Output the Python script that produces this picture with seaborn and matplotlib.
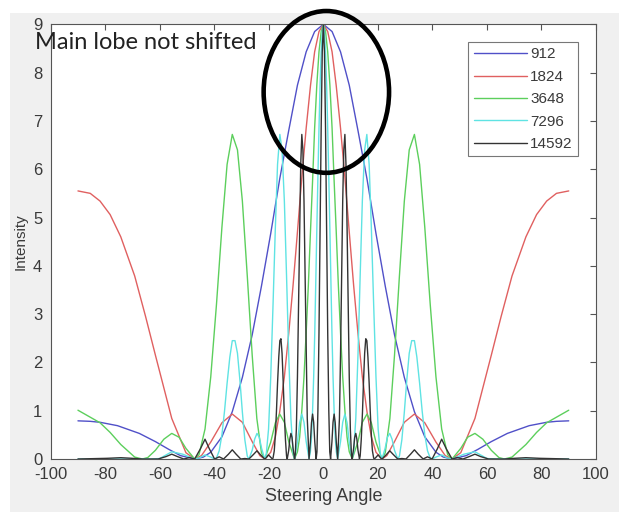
import numpy as np
import pandas as pd
import matplotlib
matplotlib.use("Agg")
import matplotlib.pyplot as plt
import seaborn as sns
from matplotlib.patches import Ellipse, Rectangle

# ---------------- data ----------------
frequencies = ["912", "1824", "3648", "7296", "14592"]

angle_912 = [-90, -85.5, -81.9, -75.5, -67.5, -61.6, -56.7, -52.4, -47.2, -44.0, -41.3, -37.2, -33.4,
             -29.7, -26.1, -22.7, -19.3, -16.0, -12.7, -9.5, -6.3, -3.2, 0,
             3.2, 6.3, 9.5, 12.7, 16.0, 19.3, 22.7, 26.1, 29.7, 33.4, 37.2, 41.3, 44.0,
             47.2, 52.4, 56.7, 61.6, 67.5, 75.5, 81.9, 85.5, 90]
intensity_912 = [0.79, 0.78, 0.76, 0.69, 0.53, 0.36, 0.2, 0.07, 0.0, 0.04, 0.14, 0.46, 0.98,
                 1.69, 2.57, 3.58, 4.67, 5.8, 6.8, 7.74, 8.43, 8.85, 9.0,
                 8.85, 8.43, 7.74, 6.8, 5.8, 4.67, 3.58, 2.57, 1.69, 0.98, 0.46, 0.14, 0.04,
                 0.0, 0.07, 0.2, 0.36, 0.53, 0.69, 0.76, 0.78, 0.79]

angle_1824 = [-90, -85.5, -81.9, -78.2, -74.3, -69.2, -65.2, -61.6, -55.6, -50.4, -47.2, -44.7,
              -41.3, -37.2, -33.4, -29.7, -26.1, -23.3, -21.5, -19.3, -17.6, -16.0, -14.3,
              -12.7, -11.1, -9.5, -7.9, -6.3, -4.7, -3.2, -1.6, 0,
              1.6, 3.2, 4.7, 6.3, 7.9, 9.5, 11.1, 12.7, 14.3, 16.0, 17.6, 19.3, 21.5, 23.3,
              26.1, 29.7, 33.4, 37.2, 41.3, 44.7, 47.2, 50.4, 55.6, 61.6, 65.2, 69.2, 74.3,
              78.2, 81.9, 85.5, 90]
intensity_1824 = [5.55, 5.5, 5.34, 5.06, 4.6, 3.79, 2.95, 2.15, 0.84, 0.13, 0.0, 0.07,
                  0.35, 0.75, 0.93, 0.76, 0.36, 0.07, 0.0, 0.14, 0.46, 0.98, 1.7,
                  2.6, 3.6, 4.7, 5.83, 6.85, 7.74, 8.43, 8.85, 9.0,
                  8.85, 8.43, 7.74, 6.85, 5.83, 4.7, 3.6, 2.6, 1.7, 0.98, 0.46, 0.14, 0.0, 0.07,
                  0.36, 0.76, 0.93, 0.75, 0.35, 0.07, 0.0, 0.13, 0.84, 2.15, 2.95, 3.79, 4.6,
                  5.06, 5.34, 5.5, 5.55]

angle_3648 = [-90, -81.9, -78.2, -74.3, -69.2, -66.4, -64.4, -61.6, -58.5, -55.6, -52.9, -50.4,
              -47.2, -45.6, -43.4, -41.3, -39.2, -37.2, -35.3, -33.4, -31.5, -29.7, -27.9,
              -26.1, -24.4, -22.7, -21.5, -19.3, -17.6, -16.0, -14.3, -12.7, -10.6, -9.5,
              -8.7, -7.9, -7.1, -6.3, -5.5, -4.7, -3.9, -3.2, -2.4, -1.6, -0.8, 0,
              0.8, 1.6, 2.4, 3.2, 3.9, 4.7, 5.5, 6.3, 7.1, 7.9, 8.7, 9.5, 10.6, 12.7, 14.3,
              16.0, 17.6, 19.3, 21.5, 22.7, 24.4, 26.1, 27.9, 29.7, 31.5, 33.4, 35.3, 37.2,
              39.2, 41.3, 43.4, 45.6, 47.2, 50.4, 52.9, 55.6, 58.5, 61.6, 64.4, 66.4, 69.2,
              74.3, 78.2, 81.9, 90]
intensity_3648 = [1.01, 0.75, 0.55, 0.3, 0.04, 0.0, 0.03, 0.18, 0.41, 0.53, 0.45, 0.22,
                  0.0, 0.09, 0.62, 1.7, 3.2, 4.8, 6.1, 6.72, 6.4, 5.34, 3.79,
                  2.15, 0.84, 0.13, 0.0, 0.35, 0.75, 0.93, 0.76, 0.36, 0.0, 0.15,
                  0.45, 1.0, 1.7, 2.62, 3.6, 4.74, 5.83, 6.85, 7.74, 8.43, 8.85, 9.0,
                  8.85, 8.43, 7.74, 6.85, 5.83, 4.74, 3.6, 2.62, 1.7, 1.0, 0.45, 0.15, 0.0, 0.36, 0.76,
                  0.93, 0.75, 0.35, 0.0, 0.13, 0.84, 2.15, 3.79, 5.34, 6.4, 6.72, 6.1, 4.8,
                  3.2, 1.7, 0.62, 0.09, 0.0, 0.22, 0.45, 0.53, 0.41, 0.18, 0.03, 0.0, 0.04,
                  0.3, 0.55, 0.75, 1.01]

angle_7296 = [-90, -63.4, -60.0, -55.6, -51.6, -47.2, -45.6, -43.4, -41.3, -39.9, -39.2, -38.2,
              -37.2, -36.25, -35.3, -34.3, -33.4, -32.4, -31.5, -30.6, -29.7, -28.8, -27.9,
              -27.3, -26.1, -25.2, -24.35, -23.5, -22.65, -21.5, -20.95, -20.1, -19.3, -18.45,
              -17.6, -16.8, -15.95, -15.15, -14.3, -13.5, -12.7, -11.9, -11.1, -10.55, -9.5,
              -8.7, -7.9, -7.1, -6.3, -5.25, -4.75, -4.35, -3.95, -3.55, -3.15, -2.8, -2.4,
              -2.0, -1.6, -1.2, -0.8, -0.4, 0,
              0.4, 0.8, 1.2, 1.6, 2.0, 2.4, 2.8, 3.15, 3.55, 3.95, 4.35, 4.75, 5.25, 6.3, 7.1,
              7.9, 8.7, 9.5, 10.55, 11.1, 11.9, 12.7, 13.5, 14.3, 15.15, 15.95, 16.8, 17.6,
              18.45, 19.3, 20.1, 20.95, 21.5, 22.65, 23.5, 24.35, 25.2, 26.1, 27.3, 27.9,
              28.8, 29.7, 30.6, 31.5, 32.4, 33.4, 34.3, 35.3, 36.25, 37.2, 38.2, 39.2, 39.9,
              41.3, 43.4, 45.6, 47.2, 51.6, 55.6, 60.0, 63.4, 90]
intensity_7296 = [0.0, 0.0, 0.01, 0.15, 0.1, 0.0, 0.02, 0.085, 0.04, 0.0, 0.02, 0.17,
                  0.5, 0.99, 1.57, 2.11, 2.45, 2.45, 2.19, 1.63, 0.97, 0.4, 0.06,
                  0.0, 0.18, 0.41, 0.53, 0.45, 0.22, 0.0, 0.09, 0.62, 1.7, 3.2,
                  4.8, 6.1, 6.72, 6.4, 5.34, 3.79, 2.15, 0.84, 0.13, 0.0, 0.35,
                  0.75, 0.93, 0.76, 0.36, 0.0, 0.15, 0.45, 1.0, 1.7, 2.62, 3.6, 4.74,
                  5.83, 6.85, 7.74, 8.43, 8.85, 9.0,
                  8.85, 8.43, 7.74, 6.85, 5.83, 4.74, 3.6, 2.62, 1.7, 1.0, 0.45, 0.15, 0.0, 0.36, 0.76,
                  0.93, 0.75, 0.35, 0.0, 0.13, 0.84, 2.15, 3.79, 5.34, 6.4, 6.72, 6.1, 4.8,
                  3.2, 1.7, 0.62, 0.09, 0.0, 0.22, 0.45, 0.53, 0.41, 0.18, 0.0, 0.06,
                  0.4, 0.97, 1.63, 2.19, 2.45, 2.45, 2.11, 1.57, 0.99, 0.5, 0.17, 0.02, 0.0,
                  0.04, 0.085, 0.02, 0.0, 0.1, 0.15, 0.01, 0.0, 0.0]

angle_14592 = [-90, -79.4, -74.3, -70.4, -66.4, -60.6, -57.7, -55.6, -53.5, -51.2, -49.1, -47.2,
               -45.1, -43.4, -41.8, -39.9, -38.2, -36.6, -34.8, -33.4, -32.0, -30.3, -28.8,
               -27.3, -25.7, -24.35, -23.1, -21.5, -20.95, -20.1, -19.3, -18.7, -18.45, -18.0,
               -17.6, -17.2, -16.8, -16.35, -15.95, -15.55, -15.15, -14.75, -14.35, -13.9,
               -13.5, -13.25, -12.7, -12.3, -11.9, -11.5, -11.1, -10.55, -10.3, -9.9, -9.5,
               -9.1, -8.7, -8.3, -7.9, -7.5, -7.1, -6.7, -6.3, -5.9, -5.25, -4.75, -4.35,
               -3.95, -3.55, -3.15, -2.65, -2.35, -2.0, -1.6, -1.2, -0.8, -0.4, 0,
               0.4, 0.8, 1.2, 1.6, 2.0, 2.35, 2.65, 3.15, 3.55, 3.95, 4.35, 4.75, 5.25, 5.9,
               6.3, 6.7, 7.1, 7.5, 7.9, 8.3, 8.7, 9.1, 9.5, 9.9, 10.3, 10.55, 11.1, 11.5,
               11.9, 12.3, 12.7, 13.25, 13.5, 13.9, 14.35, 14.75, 15.15, 15.55, 15.95, 16.35,
               16.8, 17.2, 17.6, 18.0, 18.45, 18.7, 19.3, 20.1, 20.95, 21.5, 23.1, 24.35,
               25.7, 27.3, 28.8, 30.3, 32.0, 33.4, 34.8, 36.6, 38.2, 39.9, 41.8, 43.4, 45.1,
               47.2, 49.1, 51.2, 53.5, 55.6, 57.7, 60.6, 66.4, 70.4, 74.3, 79.4, 90]
intensity_14592 = [0.0, 0.014, 0.027, 0.015, 0.0, 0.0, 0.05, 0.1, 0.05, 0.0, 0.03, 0.0,
                   0.21, 0.41, 0.21, 0.0, 0.045, 0.0, 0.1, 0.19, 0.1, 0.0, 0.01,
                   0.0, 0.09, 0.17, 0.09, 0.0, 0.025, 0.085, 0.035, 0.0, 0.02, 0.17,
                   0.5, 0.99, 1.57, 2.11, 2.45, 2.49, 2.19, 1.63, 0.97, 0.4,
                   0.06, 0.0, 0.18, 0.41, 0.53, 0.45, 0.22, 0.0, 0.09, 0.62, 1.7,
                   3.2, 4.8, 6.1, 6.72, 6.4, 5.34, 3.79, 2.15, 0.84, 0.0, 0.35, 0.75,
                   0.93, 0.76, 0.36, 0.0, 0.15, 1.0, 2.62, 4.74, 6.85, 8.43, 9.0,
                   8.43, 6.85, 4.74, 2.62, 1.0, 0.15, 0.0, 0.36, 0.76, 0.93, 0.75, 0.35, 0.0, 0.84,
                   2.15, 3.79, 5.34, 6.4, 6.72, 6.1, 4.8, 3.2, 1.7, 0.62, 0.09, 0.0, 0.22, 0.45,
                   0.53, 0.41, 0.18, 0.0, 0.06, 0.4, 0.97, 1.63, 2.19, 2.49, 2.45, 2.11,
                   1.57, 0.99, 0.5, 0.17, 0.02, 0.0, 0.035, 0.085, 0.025, 0.0, 0.09, 0.17,
                   0.09, 0.0, 0.01, 0.0, 0.1, 0.19, 0.1, 0.0, 0.045, 0.0, 0.21, 0.41, 0.21,
                   0.0, 0.03, 0.0, 0.05, 0.1, 0.05, 0.0, 0.0, 0.015, 0.027, 0.014, 0.0]

angles = [angle_912, angle_1824, angle_3648, angle_7296, angle_14592]
intensities = [intensity_912, intensity_1824, intensity_3648, intensity_7296, intensity_14592]
x_ticks = [-100, -80, -60, -40, -20, 0, 20, 40, 60, 80, 100]
y_ticks = [0, 1, 2, 3, 4, 5, 6, 7, 8, 9]

colors = {"912": "#5050c8", "1824": "#e06060", "3648": "#5ccf5c",
          "7296": "#5fe3e3", "14592": "#333333"}

# ---------------- build long table ----------------
frames = []
for lab, ang, val in zip(frequencies, angles, intensities):
    frames.append(pd.DataFrame({"Steering Angle": ang, "Intensity": val, "Frequency": lab}))
df = pd.concat(frames, ignore_index=True)

sns.set_theme(style="white")
plt.rcParams['font.family'] = ['Liberation Sans', 'DejaVu Sans']
plt.rcParams['axes.unicode_minus'] = False

fig = plt.figure(figsize=(6.19, 5.12), dpi=100, facecolor='#f0f0f0')
# white strips of the original screenshot (top and left)
fig.add_artist(Rectangle((0, 1 - 13 / 512), 1, 13 / 512, transform=fig.transFigure,
                         facecolor='white', edgecolor='none', zorder=-5))
fig.add_artist(Rectangle((0, 0), 10 / 619, 1, transform=fig.transFigure,
                         facecolor='white', edgecolor='none', zorder=-5))

ax = fig.add_axes([50.7 / 619, 1 - 459 / 512, (596 - 50.7) / 619, (459 - 24.3) / 512])
ax.set_facecolor('white')

sns.lineplot(data=df, x="Steering Angle", y="Intensity", hue="Frequency",
             hue_order=frequencies, palette=colors, estimator=None, sort=False,
             linewidth=1.0, ax=ax)

ax.set_xlim(-100, 100)
ax.set_ylim(0, 9)
ax.set_xticks(x_ticks)
ax.set_yticks(y_ticks)
ax.tick_params(direction='in', top=True, right=True, length=4, width=0.8,
               color='#555555', labelcolor='#3a3a3a', labelsize=12, pad=6)
for sp in ax.spines.values():
    sp.set_color('#555555')
    sp.set_linewidth(0.8)
ax.set_xlabel("Steering Angle", fontsize=13, color='#3a3a3a', labelpad=4)
ax.set_ylabel("Intensity", fontsize=11, color='#3a3a3a', labelpad=4)

handles, labels = ax.get_legend_handles_labels()
leg = ax.legend(handles, labels, loc='upper right', bbox_to_anchor=(0.967, 0.959),
                frameon=True, fancybox=False, edgecolor='#555555', fontsize=11,
                handlelength=3.5, handletextpad=0.2, labelspacing=0.55, borderpad=0.35,
                borderaxespad=0)
leg.get_frame().set_linewidth(0.8)
for t in leg.get_texts():
    t.set_color('#3a3a3a')

ell = Ellipse((1.1, 7.6), width=46, height=3.35, transform=ax.transData, fill=False,
              linewidth=3.3, edgecolor='black', clip_on=False, zorder=10)
ax.add_patch(ell)

fig.text(35 / 619, 1 - 49 / 512, "Main lobe not shifted", family=['Lato', 'DejaVu Sans'],
         fontsize=17, color='#222222', va='baseline', ha='left', zorder=11)

fig.savefig("out.png", dpi=100, facecolor=fig.get_facecolor())
